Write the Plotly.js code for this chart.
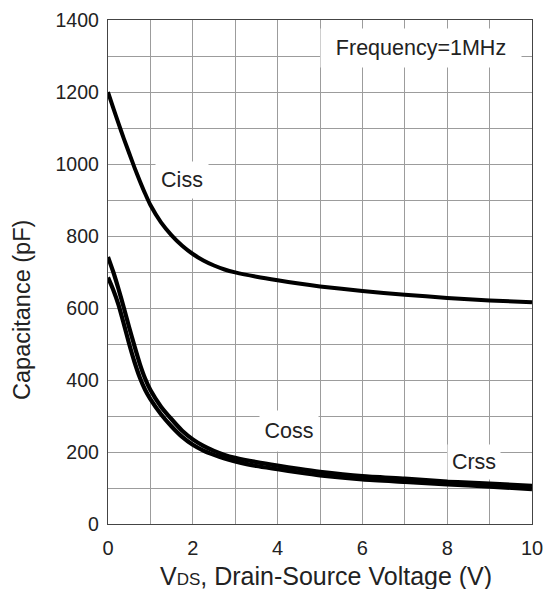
<!DOCTYPE html>
<html>
<head>
<meta charset="utf-8">
<script src="https://cdn.plot.ly/plotly-3.0.1.min.js"></script>
<style>
  html, body { margin: 0; padding: 0; background: #fff; }
  #chart { width: 544px; height: 589px; }
</style>
</head>
<body>
<div id="chart"></div>
<script>
// Drain-source voltage (V)
const vds  = [0, 0.125, 0.25, 0.375, 0.5, 0.625, 0.75, 0.875, 1, 1.25, 1.5, 1.75, 2, 2.25, 2.5, 2.75, 3, 3.5, 4, 4.5, 5, 6, 7, 8, 9, 10];
// Capacitance (pF)
const ciss = [1200, 1155, 1112, 1070, 1030, 990, 953, 918, 886, 838, 802, 773, 750, 732, 718, 707, 699, 687, 677, 668, 660, 647, 637, 628, 621, 616];
const coss = [742, 700, 652, 600, 546, 494, 445, 404, 372, 326, 291, 259, 235, 217, 203, 192, 184, 172, 162, 153, 145, 133, 126, 118, 112, 106];
const crss = [685, 650, 608, 555, 500, 450, 407, 373, 347, 305, 271, 242, 220, 204, 192, 182, 174, 161, 152, 143, 135, 124, 117, 110, 104, 97];

const xTicks = [0, 2, 4, 6, 8, 10];
const yTicks = [0, 200, 400, 600, 800, 1000, 1200, 1400];

const font = "Liberation Sans, Arial, sans-serif";
const gridColor = "#9c9c9c";

const lineStyle = (w) => ({ color: "#000", width: w, shape: "spline", smoothing: 0.6 });

const traces = [
  { x: vds, y: ciss, mode: "lines", name: "Ciss", line: lineStyle(4), hoverinfo: "skip" },
  { x: vds, y: coss, mode: "lines", name: "Coss", line: lineStyle(4.2), hoverinfo: "skip" },
  { x: vds, y: crss, mode: "lines", name: "Crss", line: lineStyle(4.2), hoverinfo: "skip" }
];

const labelFont = { family: font, size: 21.5, color: "#222" };

const layout = {
  width: 544,
  height: 589,
  margin: { l: 108, r: 12, t: 20, b: 65 },
  paper_bgcolor: "#fff",
  plot_bgcolor: "#fff",
  showlegend: false,
  font: { family: font, color: "#222" },
  xaxis: {
    range: [0, 10],
    tickvals: xTicks,
    ticktext: xTicks.map(String),
    tickfont: { family: font, size: 20, color: "#222" },
    ticks: "",
    ticklabelstandoff: 6,
    showgrid: true,
    gridcolor: gridColor,
    gridwidth: 1,
    minor: { dtick: 1, showgrid: true, gridcolor: gridColor, gridwidth: 1, ticks: "" },
    showline: true,
    linecolor: "#444",
    linewidth: 1.2,
    mirror: true,
    zeroline: false,
    fixedrange: true
  },
  yaxis: {
    range: [0, 1400],
    tickvals: yTicks,
    ticktext: yTicks.map(String),
    tickfont: { family: font, size: 19.5, color: "#222" },
    ticks: "",
    ticklabelstandoff: 4,
    showgrid: true,
    gridcolor: gridColor,
    gridwidth: 1,
    minor: { dtick: 100, showgrid: true, gridcolor: gridColor, gridwidth: 1, ticks: "" },
    showline: true,
    linecolor: "#444",
    linewidth: 1.2,
    mirror: true,
    zeroline: false,
    fixedrange: true
  },
  annotations: [
    { x: 0.514, y: -0.103, xref: "paper", yref: "paper",
      text: "V<span style='font-size:17px'>DS</span>, Drain-Source Voltage (V)",
      showarrow: false, font: { family: font, size: 25, color: "#222" }, xanchor: "center", yanchor: "middle" },
    { x: -0.203, y: 0.4246, xref: "paper", yref: "paper", text: "Capacitance (pF)", textangle: -90,
      showarrow: false, font: { family: font, size: 23.5, color: "#222" }, xanchor: "center", yanchor: "middle" },
    { x: 7.39, y: 1322, xref: "x", yref: "y", text: "Frequency=1MHz", showarrow: false,
      font: labelFont, bgcolor: "#fff", width: 198, height: 36, xanchor: "center", yanchor: "middle" },
    { x: 1.75, y: 955, xref: "x", yref: "y", text: "Ciss", showarrow: false,
      font: labelFont, bgcolor: "#fff", width: 50, height: 34, xanchor: "center", yanchor: "middle" },
    { x: 4.27, y: 258, xref: "x", yref: "y", text: "Coss", showarrow: false,
      font: labelFont, bgcolor: "#fff", width: 56, height: 38, xanchor: "center", yanchor: "middle" },
    { x: 8.64, y: 171, xref: "x", yref: "y", text: "Crss", showarrow: false,
      font: labelFont, bgcolor: "#fff", width: 50, height: 32, xanchor: "center", yanchor: "middle" }
  ]
};

Plotly.newPlot("chart", traces, layout, { staticPlot: true, displayModeBar: false });
</script>
</body>
</html>
